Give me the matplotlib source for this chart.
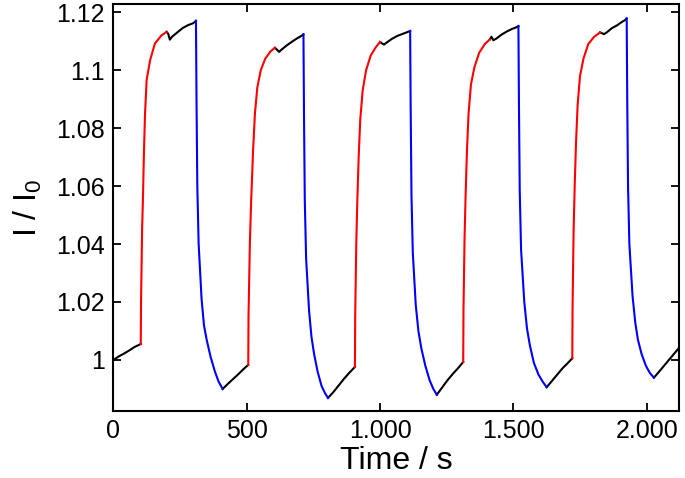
import matplotlib
matplotlib.use("Agg")
import matplotlib.pyplot as plt
from matplotlib.ticker import FuncFormatter

plt.rcParams['font.family'] = ['Liberation Sans', 'DejaVu Sans']
plt.rcParams['mathtext.default'] = 'regular'

# low black segments (before each light-on)
low_t = [
    [0, 20, 40, 60, 80, 103],
    [410, 430, 450, 470, 490, 506],
    [805, 825, 845, 865, 885, 906],
    [1213, 1233, 1253, 1273, 1293, 1312],
    [1625, 1645, 1665, 1685, 1705, 1721],
    [2027, 2045, 2065, 2085, 2105, 2125],
]
low_y = [
    [1.0, 1.0012, 1.0022, 1.0033, 1.0045, 1.0055],
    [0.990, 0.9918, 0.9935, 0.9952, 0.997, 0.9983],
    [0.9869, 0.9889, 0.9912, 0.9935, 0.9956, 0.9976],
    [0.988, 0.9905, 0.993, 0.9952, 0.9972, 0.9993],
    [0.9906, 0.9928, 0.995, 0.9972, 0.999, 1.0006],
    [0.9939, 0.9958, 0.998, 1.0002, 1.0024, 1.0046],
]

# red rising segments
rise_t = [
    [103, 104, 108, 111, 115, 119, 125, 138, 156, 181, 200],
    [506, 507, 512, 517, 524, 531, 540, 553, 570, 590, 606],
    [906, 907, 911, 915, 920, 926, 935, 948, 965, 985, 1000],
    [1312, 1313, 1317, 1321, 1326, 1332, 1341, 1354, 1372, 1393, 1412],
    [1721, 1722, 1726, 1730, 1735, 1741, 1750, 1763, 1781, 1803, 1825],
]
rise_y = [
    [1.0055, 1.02, 1.045, 1.055, 1.072, 1.085, 1.0966, 1.1034, 1.1092, 1.112, 1.1132],
    [0.9983, 1.015, 1.04, 1.055, 1.072, 1.085, 1.094, 1.1, 1.104, 1.1065, 1.1077],
    [0.9976, 1.015, 1.04, 1.055, 1.07, 1.083, 1.093, 1.1, 1.105, 1.108, 1.1097],
    [0.9993, 1.017, 1.042, 1.057, 1.072, 1.085, 1.095, 1.101, 1.106, 1.109, 1.1106],
    [1.0006, 1.018, 1.045, 1.06, 1.075, 1.088, 1.098, 1.104, 1.109, 1.1115, 1.113],
]

# high black segments (plateau)
high_t = [
    [200, 206, 212, 220, 240, 260, 280, 300, 310],
    [606, 614, 622, 630, 650, 670, 690, 705, 713],
    [1000, 1008, 1015, 1025, 1045, 1065, 1085, 1105, 1113],
    [1412, 1418, 1425, 1435, 1455, 1475, 1495, 1512, 1519],
    [1825, 1833, 1840, 1850, 1870, 1890, 1905, 1918, 1925],
]
high_y = [
    [1.1132, 1.1125, 1.1105, 1.1115, 1.113, 1.1145, 1.1155, 1.1162, 1.117],
    [1.1077, 1.107, 1.1063, 1.107, 1.1085, 1.1098, 1.111, 1.1118, 1.1123],
    [1.1097, 1.1092, 1.1088, 1.1095, 1.1108, 1.1118, 1.1125, 1.1132, 1.1135],
    [1.1106, 1.1115, 1.1103, 1.1108, 1.1122, 1.1133, 1.1142, 1.1148, 1.1152],
    [1.113, 1.1127, 1.1124, 1.113, 1.1145, 1.1155, 1.1165, 1.1172, 1.1178],
]

# blue decay segments
fall_t = [
    [310, 312, 315, 320, 331, 340, 350, 365, 381, 395, 410],
    [713, 715, 718, 723, 734, 743, 753, 766, 781, 794, 805],
    [1113, 1115, 1118, 1123, 1134, 1144, 1155, 1170, 1186, 1200, 1213],
    [1519, 1521, 1524, 1529, 1541, 1551, 1562, 1577, 1594, 1610, 1625],
    [1925, 1927, 1930, 1935, 1947, 1957, 1967, 1981, 1997, 2012, 2027],
]
fall_y = [
    [1.117, 1.09, 1.06, 1.04, 1.021, 1.012, 1.007, 1.001, 0.996, 0.9925, 0.990],
    [1.1123, 1.085, 1.055, 1.035, 1.017, 1.008, 1.002, 0.996, 0.991, 0.9885, 0.9869],
    [1.1135, 1.087, 1.057, 1.037, 1.019, 1.01, 1.004, 0.998, 0.993, 0.990, 0.988],
    [1.1152, 1.088, 1.058, 1.038, 1.02, 1.011, 1.005, 0.999, 0.995, 0.9925, 0.9906],
    [1.1178, 1.09, 1.06, 1.04, 1.022, 1.013, 1.007, 1.002, 0.998, 0.9955, 0.9939],
]

xticks = [0, 500, 1000, 1500, 2000]
yticks = [1.0, 1.02, 1.04, 1.06, 1.08, 1.1, 1.12]

fig = plt.figure(figsize=(6.85, 4.78), dpi=100)
ax = fig.add_axes([0.1654, 0.1402, 0.9912 - 0.1654, 0.9916 - 0.1402])

lw = 1.5
for t, y in zip(low_t, low_y):
    ax.plot(t, y, color='black', lw=lw)
for t, y in zip(high_t, high_y):
    ax.plot(t, y, color='black', lw=lw)
for t, y in zip(rise_t, rise_y):
    ax.plot(t, y, color='#ff0000', lw=lw)
for t, y in zip(fall_t, fall_y):
    ax.plot(t, y, color='#0000ff', lw=lw)

ax.set_xlim(0, 2121)
ax.set_ylim(0.9824, 1.1228)
ax.set_xticks(xticks)
ax.set_yticks(yticks)
ax.xaxis.set_major_formatter(FuncFormatter(lambda v, p: f"{int(v):,}".replace(",", ".")))
ax.yaxis.set_major_formatter(FuncFormatter(lambda v, p: f"{v:g}"))
ax.tick_params(direction='in', top=True, right=True, length=6, width=1.3,
               labelsize=18, pad=6)
for s in ax.spines.values():
    s.set_linewidth(1.5)

ax.set_xlabel('Time / s', fontsize=23, labelpad=2)
ax.set_ylabel('I / I$_0$', fontsize=23, labelpad=9)

fig.savefig('out.png', dpi=100)
